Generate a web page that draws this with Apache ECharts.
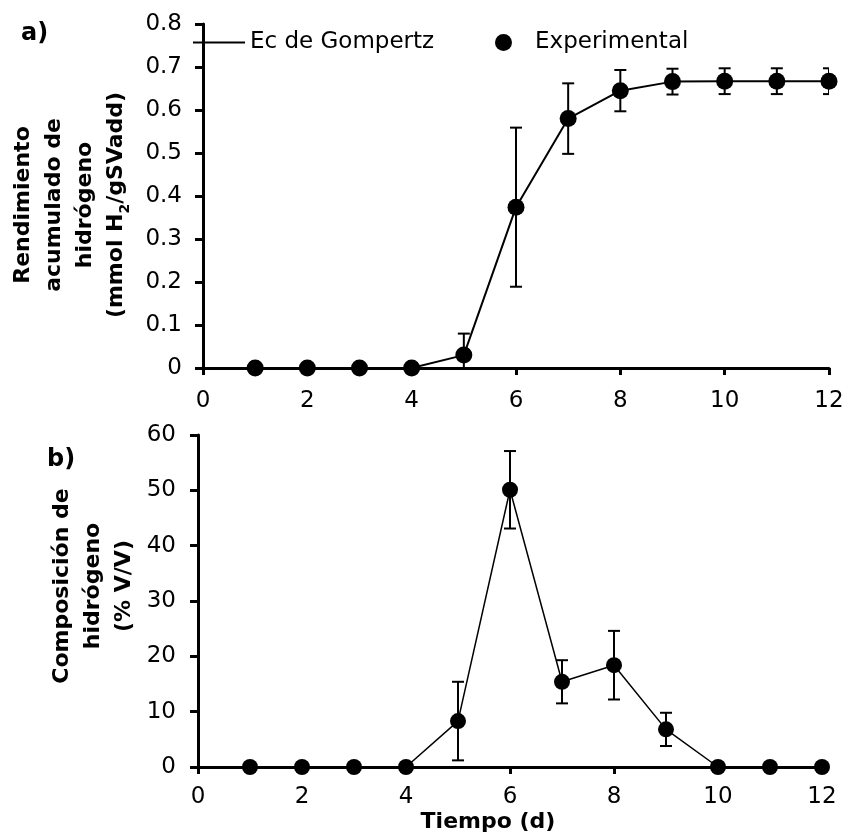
<!DOCTYPE html>
<html><head><meta charset="utf-8">
<script src="https://cdn.jsdelivr.net/npm/echarts@6/dist/echarts.min.js"></script>
<style>html,body{margin:0;padding:0;background:#fff}#c{width:848px;height:837px}</style>
</head><body><div id="c"></div>
<script>
const days = [1,2,3,4,5,6,7,8,9,10,11,12];
const yieldExp = [0,0,0,0,0.03,0.374,0.58,0.645,0.666,0.667,0.667,0.667];
const yieldErr = [0,0,0,0,0.05,0.185,0.082,0.048,0.03,0.03,0.03,0.03];
const yieldGompertz = [0,0,0,0,0.03,0.374,0.58,0.645,0.666,0.667,0.667,0.667];
const h2Comp = [0,0,0,0,8.3,50.1,15.4,18.4,6.8,0,0,0];
const h2Err = [0,0,0,0,7.1,7.0,3.9,6.2,3.0,0,0,0];
const xTickLabels = ['0','2','4','6','8','10','12'];
const yTickLabelsA = ['0','0.1','0.2','0.3','0.4','0.5','0.6','0.7','0.8'];
const yTickLabelsB = ['0','10','20','30','40','50','60'];

const FONT = 'DejaVu Sans';
const pts = (vals) => days.map((d, i) => [d, vals[i]]);
const errPts = (vals, errs) => days.map((d, i) => [d, vals[i], errs[i]]);

function errRender(lw, cap) {
  return function (params, api) {
    const x = api.value(0), y = api.value(1), e = api.value(2);
    if (!e) return null;
    const hi = api.coord([x, y + e]);
    const lo = api.coord([x, y - e]);
    const st = { stroke: '#000', lineWidth: lw };
    return {
      type: 'group',
      children: [
        { type: 'line', shape: { x1: hi[0], y1: hi[1], x2: lo[0], y2: lo[1] }, style: st },
        { type: 'line', shape: { x1: hi[0] - cap, y1: hi[1], x2: hi[0] + cap, y2: hi[1] }, style: st },
        { type: 'line', shape: { x1: lo[0] - cap, y1: lo[1], x2: lo[0] + cap, y2: lo[1] }, style: st }
      ]
    };
  };
}

const axisCommon = {
  axisLine: { show: true, onZero: true, lineStyle: { color: '#000', width: 3 } },
  splitLine: { show: false },
};

function xAxisDef(gi, margin) {
  return Object.assign({
    type: 'value', gridIndex: gi, min: 0, max: 12, interval: 2,
    axisTick: { show: true, length: 7, lineStyle: { color: '#000', width: 3 } },
    axisLabel: { fontSize: 23, fontFamily: FONT, color: '#000', margin: margin,
      formatter: (v) => xTickLabels[Math.round(v / 2)] }
  }, axisCommon);
}

const chart = echarts.init(document.getElementById('c'), null, { renderer: 'canvas' });
chart.setOption({
  animation: false,
  backgroundColor: '#fff',
  grid: [
    { left: 203, right: 19, top: 24, height: 344 },
    { left: 198, right: 26, top: 435, height: 332 }
  ],
  xAxis: [xAxisDef(0, 22), xAxisDef(1, 19)],
  yAxis: [
    Object.assign({
      type: 'value', gridIndex: 0, min: 0, max: 0.8, interval: 0.1,
      axisTick: { show: true, length: 8, lineStyle: { color: '#000', width: 3 } },
      axisLabel: { fontSize: 23, fontFamily: FONT, color: '#000', margin: 21,
        formatter: (v) => yTickLabelsA[Math.round(v * 10)] }
    }, axisCommon),
    Object.assign({
      type: 'value', gridIndex: 1, min: 0, max: 60, interval: 10,
      axisTick: { show: true, length: 8, lineStyle: { color: '#000', width: 3 } },
      axisLabel: { fontSize: 23, fontFamily: FONT, color: '#000', margin: 22,
        formatter: (v) => yTickLabelsB[Math.round(v / 10)] }
    }, axisCommon)
  ],
  legend: [
    { data: [{ name: 'Ec de Gompertz', icon: 'rect' }], left: 188, top: 26, itemWidth: 52, itemHeight: 2, selectedMode: false,
      itemStyle: { color: '#000', opacity: 1 },
      textStyle: { fontSize: 23, fontFamily: FONT, color: '#000' } },
    { data: [{ name: 'Experimental', icon: 'circle' }], left: 490, top: 26, itemWidth: 17, itemHeight: 17, selectedMode: false,
      itemStyle: { color: '#000', opacity: 1 },
      textStyle: { fontSize: 23, fontFamily: FONT, color: '#000', padding: [0, 0, 0, 18] } }
  ],
  series: [
    { name: 'Ec de Gompertz', type: 'line', xAxisIndex: 0, yAxisIndex: 0, data: pts(yieldGompertz),
      symbol: 'none', lineStyle: { color: '#000', width: 2 }, itemStyle: { color: '#000' }, z: 2 },
    { name: 'errA', type: 'custom', xAxisIndex: 0, yAxisIndex: 0, data: errPts(yieldExp, yieldErr),
      renderItem: errRender(2, 6), encode: { x: 0, y: 1 }, clip: true, z: 3 },
    { name: 'Experimental', type: 'scatter', xAxisIndex: 0, yAxisIndex: 0, data: pts(yieldExp),
      symbol: 'circle', symbolSize: 17, itemStyle: { color: '#000', opacity: 1 }, z: 4 },
    { name: 'comp', type: 'line', xAxisIndex: 1, yAxisIndex: 1, data: pts(h2Comp),
      symbol: 'none', lineStyle: { color: '#000', width: 1.5 }, z: 2 },
    { name: 'errB', type: 'custom', xAxisIndex: 1, yAxisIndex: 1, data: errPts(h2Comp, h2Err),
      renderItem: errRender(2, 6), encode: { x: 0, y: 1 }, clip: true, z: 3 },
    { name: 'compPts', type: 'scatter', xAxisIndex: 1, yAxisIndex: 1, data: pts(h2Comp),
      symbol: 'circle', symbolSize: 16, itemStyle: { color: '#000', opacity: 1 }, z: 4 }
  ],
  graphic: [
    { type: 'text', x: 21, y: 34, style: { text: 'a)', fontSize: 24, fontWeight: 'bold', fontFamily: FONT,
      fill: '#000', align: 'left', verticalAlign: 'middle' } },
    { type: 'text', x: 47, y: 460, style: { text: 'b)', fontSize: 24, fontWeight: 'bold', fontFamily: FONT,
      fill: '#000', align: 'left', verticalAlign: 'middle' } },
    { type: 'text', x: 70, y: 205, rotation: Math.PI / 2,
      style: { text: '{b|Rendimiento}\n{b|acumulado de}\n{b|hidrógeno}\n{b|(mmol H}{s|2}{b|/gSVadd)}',
        align: 'center', verticalAlign: 'middle', fill: '#000',
        rich: {
          b: { fontSize: 22, fontWeight: 'bold', fontFamily: FONT, lineHeight: 31, fill: '#000' },
          s: { fontSize: 14, fontWeight: 'bold', fontFamily: FONT, lineHeight: 14, verticalAlign: 'bottom', fill: '#000' }
        } } },
    { type: 'text', x: 93, y: 586, rotation: Math.PI / 2,
      style: { text: 'Composición de\nhidrógeno\n(% V/V)', fontSize: 22, fontWeight: 'bold', fontFamily: FONT,
        lineHeight: 31, align: 'center', verticalAlign: 'middle', fill: '#000' } },
    { type: 'text', x: 488, y: 822, style: { text: 'Tiempo (d)', fontSize: 22, fontWeight: 'bold', fontFamily: FONT,
      fill: '#000', align: 'center', verticalAlign: 'middle' } }
  ]
});
</script></body></html>
